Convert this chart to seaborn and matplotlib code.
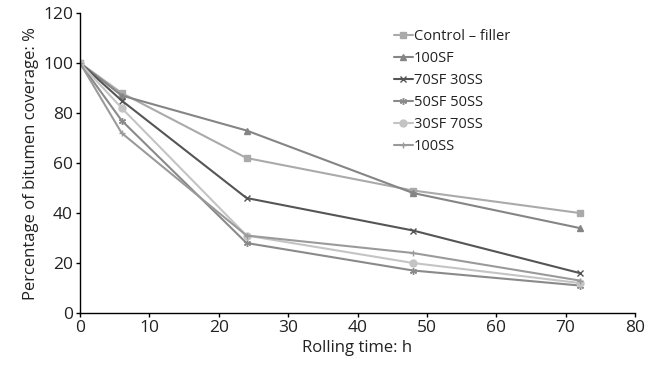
import matplotlib
matplotlib.use("Agg")
import matplotlib.pyplot as plt
import seaborn as sns
import pandas as pd

# Data
hours = [0, 6, 24, 48, 72]
control = [100, 88, 62, 49, 40]
sf100 = [100, 87, 73, 48, 34]
sf70_ss30 = [100, 85, 46, 33, 16]
sf50_ss50 = [100, 77, 28, 17, 11]
sf30_ss70 = [100, 82, 31, 20, 12]
ss100 = [100, 72, 31, 24, 13]

series_names = ["Control – filler", "100SF", "70SF 30SS", "50SF 50SS", "30SF 70SS", "100SS"]
series_values = [control, sf100, sf70_ss30, sf50_ss50, sf30_ss70, ss100]

sns.set_style("ticks")
plt.rcParams["font.family"] = ["Open Sans", "DejaVu Sans"]

colors = ["#aaaaaa", "#858585", "#555555", "#8a8a8a", "#c4c4c4", "#9a9a9a"]
markers = ["s", "^", "x", (6, 2, 0), "o", "+"]

fig = plt.figure(figsize=(6.56, 3.66), dpi=100)
ax = fig.add_axes([80 / 656, 53 / 366, 555 / 656, 300 / 366])

for name, vals, c, m in zip(series_names, series_values, colors, markers):
    df = pd.DataFrame({"time": hours, "coverage": vals})
    sns.lineplot(data=df, x="time", y="coverage", color=c, marker=m,
                 markersize=5, linewidth=1.5, markeredgewidth=1,
                 markeredgecolor=c, label=name, ax=ax)

ax.set_xlim(0, 80)
ax.set_ylim(0, 120)
ax.set_xticks(range(0, 81, 10))
ax.set_yticks(range(0, 121, 20))
ax.set_xlabel("Rolling time: h", fontsize=12, color="#222222", labelpad=3)
ax.set_ylabel("Percentage of bitumen coverage: %", fontsize=12, color="#222222", labelpad=3)
ax.tick_params(labelsize=12.5, direction="out", length=3, width=1,
               color="black", labelcolor="#222222", pad=2)
for s in ["left", "bottom"]:
    ax.spines[s].set_color("black")
    ax.spines[s].set_linewidth(1)
sns.despine(ax=ax)

leg = ax.legend(loc="upper left", bbox_to_anchor=(0.565, 0.946), frameon=False,
                fontsize=10.5, handlelength=1.3, handletextpad=0.1,
                labelspacing=0.48, borderaxespad=0, borderpad=0)
for t in leg.get_texts():
    t.set_color("#222222")

fig.savefig("out.png", dpi=100)
